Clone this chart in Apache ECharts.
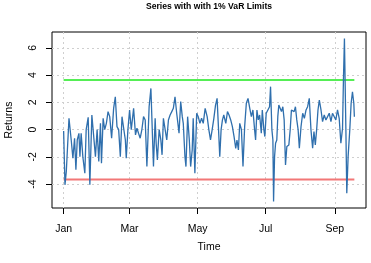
<!DOCTYPE html>
<html>
<head>
<meta charset="utf-8">
<script src="https://cdn.jsdelivr.net/npm/echarts@6/dist/echarts.min.js"></script>
<style>
html,body{margin:0;padding:0;background:#fff;}
#chart{width:371px;height:263px;}
</style>
</head>
<body>
<div id="chart"></div>
<script>
// day offsets from Jan 1 (x) and returns (y)
var days = [0,1.2,2.4,4.8,6.8,8.3,9.8,11.0,12.2,13.7,14.6,15.7,17.2,19.0,20.2,22.0,23.5,25.3,27.0,28.5,30.0,31.5,33.0,33.9,35.4,36.8,38.3,39.8,41.3,43.0,44.8,46.3,47.8,49.3,50.8,52.3,53.7,55.3,56.1,57.6,59.1,60.6,62.7,64.4,65.7,67.1,68.6,70.1,71.6,73.1,74.6,76.6,78.2,
80.5,82.0,82.9,84.0,85.6,87.1,88.2,89.4,90.9,92.4,93.9,95.4,96.9,98.3,99.8,101.3,102.2,103.4,104.9,106.3,107.2,108.7,109.6,111.1,112.6,113.8,115.2,116.1,117.6,119.2,120.6,122.1,123.6,125.1,126.8,128.6,130.1,131.6,133.1,134.6,136.1,137.5,138.8,139.9,141.1,142.3,143.5,145.3,146.8,148.2,149.7,151.2,152.7,154.2,155.3,156.6,157.8,159.3,160.7,162.2,163.7,165.2,166.7,
168.2,169.6,171.1,172.0,173.2,174.4,175.6,177.1,178.0,179.4,180.3,181.5,183.0,184.5,185.4,186.6,187.5,188.1,189.0,189.9,191.0,191.9,192.8,194.0,195.2,196.4,197.6,198.8,200.0,201.8,203.0,204.1,205.3,206.5,207.7,208.9,210.1,211.2,212.7,214.2,215.7,217.2,218.6,220.1,221.6,223.1,224.3,225.5,226.7,227.9,229.1,230.6,232.0,233.5,235.0,236.5,238.0,239.5,240.9,242.4,243.9,245.4,246.9,248.4,249.9,250.7,251.6,252.9,253.7,254.9,256.4,257.6,258.8,260.0,260.5];
var returns = [-0.1,-4.05,-3.07,0.83,-0.76,-2.10,-0.63,-2.95,-0.76,-0.27,-1.98,-0.27,-1.98,-3.2,0,0.9,-4.05,1.07,1.07,-1.98,0,-2.34,0.46,-2.46,0.83,0,0.46,1.32,0.95,-0.63,1.56,2.41,0.22,0,-1.98,0.95,1.0,-0.76,-2.1,0,1.44,0,1.56,-0.39,0.1,-0.27,-0.63,0,0.95,0.71,-2.71,1.68,3.02,
-2.71,0.83,-1.0,-2.22,0,-0.76,-1.85,0.83,0.83,-0.76,0.71,1.07,1.32,1.56,2.41,1.2,0.59,-0.27,2.05,0.95,0.46,-1.98,-2.71,0.95,-0.76,-2.71,-1.49,0.83,-3.2,1.2,0.95,0.46,0.83,0.46,1.56,0.95,0,-0.76,0,0.83,1.8,2.29,0,-1.98,0,0.71,1.07,0.46,1.32,1.07,0.71,0.22,-0.51,-1.37,-0.76,-1.49,0.46,0,-2.71,0.22,1.93,2.29,1.6,
0.95,1.44,0,-0.76,1.44,0.71,1.07,-0.27,1.44,0,-0.51,1.2,1.44,1.68,3.15,0,-0.76,-5.27,-1.98,-1.0,-0.76,0.95,1.8,1.56,1.32,1.68,0.71,-2.59,-1.24,-1.12,0,1.44,1.56,1.32,1.68,0.71,0,-1.37,0.22,1.2,0.83,1.44,1.68,2.29,0,-1.37,-0.15,-1.12,0,1.44,2.17,1.44,0.59,1.07,0.71,0.95,1.2,0.59,1.2,1.32,0.71,1.44,0.83,-1.0,0.1,3.63,6.68,0,-4.66,-1.98,0,1.93,2.78,1.93,0.95];
// 1% VaR limits
var varUpper = 3.63;
var varLower = -3.65;
// axis ticks
var monthTicks = [0, 59, 120, 181, 243];
var monthLabels = ['Jan', 'Mar', 'May', 'Jul', 'Sep'];
var yTicks = [-4, -2, 0, 2, 4, 6];

var seriesData = days.map(function (d, i) { return [d, returns[i]]; });
var first = days[0], last = days[days.length - 1];
var span = last - first;
var xMin = first - span * 0.04, xMax = last + span * 0.04;
var yLo = Math.min.apply(null, returns), yHi = Math.max.apply(null, returns);
var yMin = yLo - (yHi - yLo) * 0.04, yMax = yHi + (yHi - yLo) * 0.04;

var FONT = '"Liberation Sans", Arial, sans-serif';
var gridLine = {show: true, lineStyle: {color: '#cfcfcf', type: [2, 3], width: 1}};
var chart = echarts.init(document.getElementById('chart'), null, {renderer: 'canvas'});
chart.setOption({
  animation: false,
  backgroundColor: '#fff',
  title: {
    text: 'Series with with 1% VaR Limits',
    left: 209, top: 2, padding: 0, textAlign: 'center',
    textStyle: {fontFamily: FONT, fontSize: 8.6, fontWeight: 'bold', color: '#000'}
  },
  grid: {left: 52, right: 5, top: 32, bottom: 55, outerBoundsMode: 'none', containLabel: false,
    show: true, borderColor: '#000', borderWidth: 1, backgroundColor: 'transparent'},
  xAxis: {
    type: 'value', min: xMin, max: xMax,
    name: 'Time', nameLocation: 'middle', nameGap: 34,
    nameTextStyle: {fontFamily: FONT, fontSize: 10.5, color: '#000'},
    axisLine: {show: false, onZero: false},
    axisTick: {show: true, length: 6, customValues: monthTicks, lineStyle: {color: '#000'}},
    axisLabel: {customValues: monthTicks, margin: 16, fontFamily: FONT, fontSize: 10.5, color: '#000',
      formatter: function (v) { var i = monthTicks.indexOf(v); return i >= 0 ? monthLabels[i] : ''; }},
    splitLine: gridLine
  },
  yAxis: {
    type: 'value', min: yMin, max: yMax, position: 'left',
    name: 'Returns', nameLocation: 'middle', nameGap: 37,
    nameTextStyle: {fontFamily: FONT, fontSize: 10.5, color: '#000'},
    axisLine: {show: false, onZero: false},
    axisTick: {show: true, length: 6, customValues: yTicks, lineStyle: {color: '#000'}},
    axisLabel: {show: false, customValues: yTicks},
    splitLine: gridLine
  },
  series: [
    {type: 'line', data: seriesData, showSymbol: false, lineStyle: {color: '#2f6fad', width: 1.3}, z: 3},
    {type: 'line', data: [[first, varUpper], [last, varUpper]], showSymbol: false, lineStyle: {color: '#55ee55', width: 2}, z: 2},
    {type: 'line', data: [[first, varLower], [last, varLower]], showSymbol: false, lineStyle: {color: '#f27777', width: 2}, z: 2}
  ]
});
// rotated y tick labels (R style, las = 0), positioned through the axis scale
var labelX = chart.convertToPixel({gridIndex: 0}, [xMin, 0])[0] - 19;
chart.setOption({
  graphic: yTicks.map(function (v) {
    return {
      type: 'text', x: labelX, y: chart.convertToPixel({yAxisIndex: 0}, v), rotation: Math.PI / 2,
      style: {text: String(v), textAlign: 'center', textVerticalAlign: 'middle', fontFamily: FONT, fontSize: 10.5, fill: '#000'}
    };
  })
});
</script>
</body>
</html>
